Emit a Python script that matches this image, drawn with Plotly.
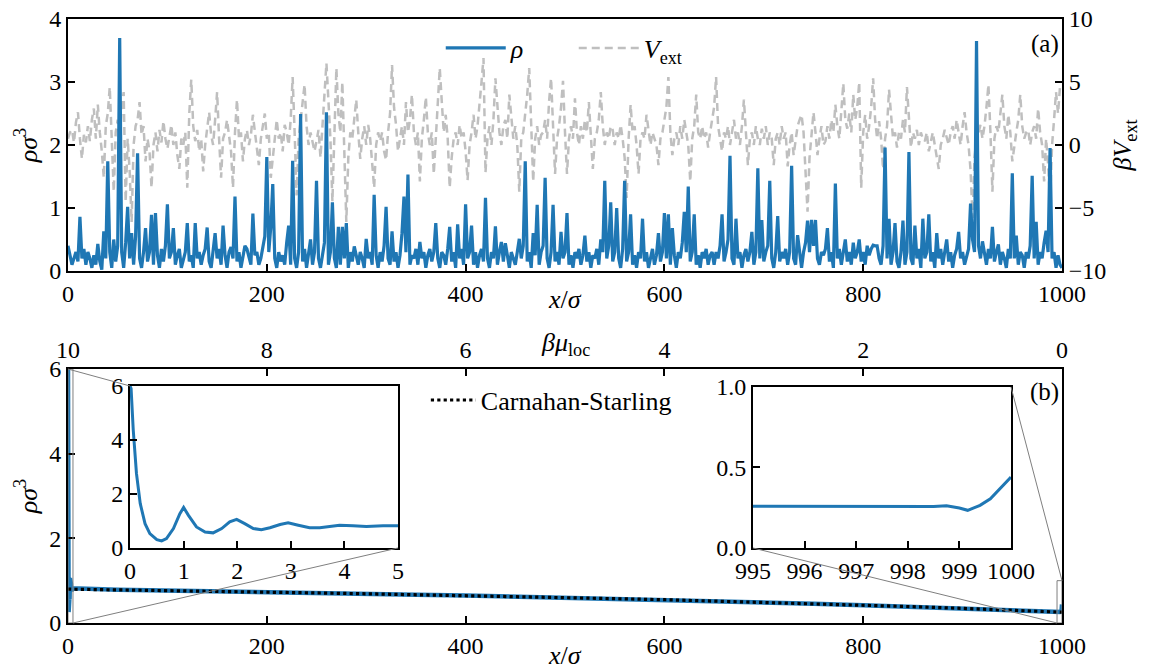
import plotly.graph_objects as go

FONT = "Liberation Serif"
FS = 24
BLUE = "#1f77b4"
GREY = "#bfbfbf"

# ---------------- panel (a): density and external potential ----------------
rho_top = [
    0.40, 0.25, 0.10, 0.20, 0.30, 0.15, 0.86, 0.20, 0.35, 0.10, 0.30, 0.20, 0.05, 0.25, 0.10, 0.43, 0.15, 0.02, 0.63, 0.20, 1.74, 0.30, 0.05, 0.50, 0.15,
    0.40, 3.70, 0.30, 0.05, 0.45, 1.02, 0.20, 0.60, 0.10, 0.55, 1.87, 0.20, 0.05, 0.30, 0.68, 0.15, 0.30, 0.89, 0.10, 0.92, 0.25, 0.05, 0.35, 0.15, 0.40,
    1.06, 0.20, 0.30, 0.68, 0.10, 0.25, 0.35, 0.05, 0.20, 0.30, 0.76, 0.15, 0.25, 0.05, 0.76, 0.20, 0.30, 0.10, 0.25, 0.35, 0.69, 0.15, 0.05, 0.30, 0.60,
    0.20, 0.35, 0.10, 0.72, 0.25, 0.05, 0.30, 0.38, 0.20, 1.18, 0.15, 0.30, 0.05, 0.25, 0.40, 0.35, 0.20, 0.10, 0.91, 0.25, 0.30, 0.10, 0.20, 0.35, 0.55,
    1.81, 0.30, 0.70, 1.38, 0.20, 0.05, 0.30, 0.15, 0.25, 0.10, 0.45, 0.72, 0.10, 1.75, 0.20, 0.05, 0.30, 2.49, 0.15, 0.35, 0.05, 0.25, 0.50, 0.10, 0.30,
    1.43, 0.20, 0.05, 0.30, 0.45, 2.52, 0.10, 0.30, 1.09, 0.20, 0.05, 0.70, 0.10, 0.70, 0.20, 0.76, 0.05, 0.30, 0.15, 0.39, 0.25, 0.10, 0.30, 0.20, 0.05,
    0.51, 0.20, 0.30, 0.10, 1.21, 0.25, 0.05, 0.30, 0.15, 0.40, 1.02, 0.20, 0.10, 0.63, 0.15, 0.30, 0.05, 0.25, 0.60, 1.18, 0.30, 1.53, 0.10, 0.25, 0.20,
    0.35, 0.10, 0.46, 0.20, 0.30, 0.05, 0.25, 0.35, 0.15, 0.30, 0.76, 0.20, 0.05, 0.30, 0.25, 0.10, 0.35, 0.70, 0.15, 0.30, 0.05, 0.74, 0.20, 0.35, 0.10,
    1.06, 0.20, 0.30, 0.72, 0.10, 0.30, 0.05, 0.25, 0.35, 0.15, 1.16, 0.20, 0.05, 0.30, 0.20, 0.71, 0.10, 0.30, 0.46, 0.15, 0.44, 0.25, 0.05, 0.30, 0.20,
    0.10, 0.30, 0.51, 0.20, 0.40, 1.74, 0.15, 0.30, 0.05, 0.60, 0.25, 1.05, 0.10, 0.30, 0.40, 1.48, 0.20, 0.05, 0.30, 1.05, 0.15, 0.30, 0.10, 0.62, 0.20,
    0.30, 0.92, 0.10, 0.25, 0.05, 0.30, 0.20, 0.35, 0.10, 0.25, 0.56, 0.15, 0.30, 0.05, 0.25, 0.20, 0.35, 0.10, 0.50, 0.30, 1.43, 0.20, 0.40, 1.09, 0.15,
    0.30, 1.00, 0.20, 0.05, 0.35, 1.43, 0.15, 0.30, 0.90, 0.10, 0.25, 0.05, 0.30, 0.20, 0.83, 0.15, 0.30, 0.05, 0.20, 0.35, 0.10, 0.25, 0.60, 0.15, 0.30,
    0.92, 0.20, 0.90, 0.10, 0.68, 0.25, 0.05, 0.30, 0.20, 0.45, 0.94, 0.30, 1.34, 0.15, 0.30, 0.90, 0.10, 0.25, 0.05, 0.30, 0.20, 0.35, 0.10, 0.25, 0.30,
    0.10, 0.30, 0.20, 0.40, 0.90, 0.15, 0.30, 0.50, 1.83, 0.20, 0.10, 0.83, 0.20, 0.30, 0.05, 0.25, 0.35, 0.15, 0.30, 0.62, 0.10, 0.30, 1.63, 0.20, 0.81,
    0.15, 0.30, 0.40, 1.43, 0.20, 0.05, 0.30, 0.87, 0.15, 0.30, 0.20, 0.35, 0.10, 0.30, 1.67, 0.20, 0.10, 0.57, 0.25, 0.05, 0.30, 0.45, 0.80, 0.30, 0.81,
    0.40, 0.81, 0.20, 0.10, 0.30, 0.25, 0.35, 0.68, 0.15, 0.30, 0.05, 1.39, 0.20, 0.35, 0.10, 0.30, 0.50, 0.15, 0.30, 0.10, 0.45, 0.20, 0.30, 0.50, 0.15,
    0.30, 0.10, 0.40, 0.25, 0.35, 0.41, 0.40, 0.40, 0.20, 0.10, 0.40, 1.96, 0.20, 0.83, 0.10, 0.30, 0.76, 0.15, 0.05, 0.30, 0.80, 0.10, 0.30, 1.89, 0.20,
    0.10, 0.72, 0.20, 0.35, 0.05, 0.83, 0.20, 0.30, 0.90, 0.15, 0.30, 0.05, 0.60, 0.20, 0.35, 0.10, 0.30, 0.50, 0.15, 0.30, 0.05, 0.25, 0.35, 0.62, 0.20,
    0.30, 0.10, 0.25, 0.35, 1.07, 0.50, 0.30, 3.65, 0.40, 0.20, 0.47, 0.30, 0.10, 0.35, 0.20, 0.70, 0.15, 0.30, 0.42, 0.10, 0.30, 0.20, 0.05, 0.35, 0.20,
    1.55, 0.20, 0.56, 0.10, 0.30, 0.25, 0.05, 0.30, 0.20, 0.40, 1.51, 0.20, 0.78, 0.10, 0.30, 0.20, 0.45, 0.64, 0.30, 1.95, 0.20, 0.30, 0.05, 0.25, 0.10,
    0.05,
]

v_ext = [
    0.5, 1.0, 1.2, 0.2, 1.8, 2.6, 0.5, -1.1, 0.8, 0.2, 1.5, 0.3, 2.0, 2.9, 0.5, 3.2, 1.0, -0.5, -2.6, 1.5, 2.5, 4.6, 0.5, -3.7, 1.0,
    2.0, 0.0, 3.0, 4.2, -4.5, 0.5, -2.0, -6.1, 0.0, 1.5, 2.0, 3.4, 0.8, 1.5, -1.3, 0.5, -0.5, -3.4, 0.0, 1.0, -0.5, 1.2, 0.2, 1.9, 0.5,
    -0.3, 0.8, 1.6, 0.0, 1.0, -0.8, -1.9, 0.5, 0.0, 1.0, -3.4, 2.5, 5.2, 1.5, 0.3, 1.2, -0.5, 0.5, -2.1, 0.0, 1.5, 2.6, 0.8, 0.0, 2.0,
    4.2, 0.5, -2.6, 0.5, 1.0, 2.0, 0.5, -0.5, -3.4, 1.0, 3.6, 0.5, 1.0, -1.3, 0.5, 1.2, 0.0, 0.8, 2.4, 1.0, -0.5, -1.6, 0.5, 1.5, 2.5,
    0.5, 1.0, -2.6, -1.0, 1.0, 2.0, 0.5, 1.0, -0.5, 1.6, 1.0, 0.0, 2.0, 5.4, 1.0, -4.0, 0.5, 2.0, 3.0, 4.8, 1.5, 0.0, 1.0, 0.3, -0.5,
    0.3, 1.2, -1.0, 2.0, 4.0, 6.5, 3.0, 0.5, -4.5, 2.0, 6.1, 2.5, 1.0, 5.0, 0.0, -6.1, -1.0, 1.0, 0.5, 2.0, 3.6, 1.0, -1.1, 0.5, 1.5,
    0.0, 1.6, 0.5, -1.5, -3.4, 0.0, 1.0, 0.3, 1.0, -0.5, -1.2, 1.0, 2.5, 6.35, 3.0, 1.6, -0.5, 0.5, 1.5, 0.0, 3.4, 1.0, 2.0, 4.0, 1.0,
    0.0, 1.0, -2.9, 0.5, 2.0, 3.8, 1.0, 0.0, 1.0, -2.3, 0.5, 3.0, 6.1, 3.5, 1.0, 2.4, 0.5, -3.4, -1.0, 0.5, 1.0, 0.0, 1.6, 0.5, 1.0,
    -0.5, -2.8, 0.0, 1.0, 2.4, 0.5, 1.5, 3.0, 5.0, 6.9, -2.2, 0.5, 1.5, 0.0, 2.0, 5.3, 3.0, 1.0, 0.0, 1.5, 2.0, 0.5, 4.0, 2.0, 0.5,
    1.5, 0.0, -3.7, 0.5, 1.0, 2.5, 4.0, 6.1, 2.0, -2.9, 0.5, 1.5, 0.0, 0.8, 1.0, 2.0, 0.5, 3.5, 5.3, 1.0, -2.3, 0.5, 1.5, 3.0, 5.1,
    1.0, -2.3, 0.5, 1.5, 0.5, 3.7, 1.0, 0.0, 1.5, 0.5, 2.0, 1.0, 3.4, 0.5, -1.9, 0.5, 1.0, 2.0, 4.2, 1.5, 0.0, 1.0, 0.5, 1.5, 1.2,
    0.0, 1.0, 0.5, 1.6, 0.5, -1.0, -4.2, 0.5, 3.2, 1.0, 1.5, 0.0, -2.3, 0.5, 1.0, 0.5, 2.4, 1.0, 0.0, 1.0, 0.5, 0.0, -1.6, 0.5, 1.0,
    2.0, 3.0, 5.4, 1.0, -0.8, 0.5, 1.0, 0.0, 1.5, 0.5, 2.0, 1.0, 0.0, -2.9, 0.5, 1.5, 4.0, 1.0, 0.5, 1.5, 0.5, 1.0, -0.2, 1.0, 2.0,
    3.0, 5.4, 1.5, 0.5, -0.5, 1.0, 0.5, 1.5, 0.0, 1.0, 2.0, 0.5, 1.0, 0.0, 1.5, 3.6, 0.5, -1.6, 0.5, 1.0, 0.0, 1.5, 0.5, 0.0, 1.3,
    0.5, 1.5, 0.0, 1.0, 0.5, -1.6, 0.5, 1.0, 0.0, 1.5, 0.5, 1.0, -1.7, 0.0, 1.0, -0.8, 0.5, 1.5, 2.0, 2.4, 1.0, -2.0, -5.3, -1.0, 1.0,
    2.6, 1.0, -0.8, 0.5, 1.5, 0.0, 0.3, 1.5, 0.5, 2.0, 1.0, 3.2, 1.5, 0.5, 2.5, 4.9, 2.0, 1.3, 2.5, 1.0, 4.0, 2.0, 3.0, 5.0, -3.4,
    1.0, 2.4, 0.5, 1.5, 3.0, 5.3, 2.0, 0.5, 1.9, 0.5, -1.9, 0.5, 1.5, 4.4, 2.0, 0.5, 1.0, -0.2, 1.0, 0.5, 2.0, 1.0, 4.6, 2.5, -0.2,
    1.0, 0.5, 1.2, 0.0, 1.0, 0.5, 0.3, 1.0, -0.5, 0.3, 1.0, 0.0, -1.0, -1.9, 0.0, 0.5, 1.2, 0.5, 0.0, 1.0, 1.5, 0.5, 2.0, 1.0, 0.0,
    1.5, 2.6, 1.0, 0.0, -2.0, -5.8, -1.0, 0.5, 1.0, 1.6, 0.5, 1.5, 3.0, 4.8, 1.0, -3.7, 0.5, 1.5, 1.0, 2.5, 4.0, 1.5, 0.5, 2.4, 1.0,
    -1.3, 0.0, 1.0, 2.0, 4.0, 1.5, 0.5, 1.0, 1.2, 0.0, 1.0, 1.5, 0.5, 2.9, 1.0, 0.0, -2.9, 0.5, -1.5, -4.5, 0.0, 2.0, 4.2, 2.5, 4.6,
    4.5,
]
x_step = 2
x_rho = [x_step * i for i in range(len(rho_top))]
x_v = [x_step * i for i in range(len(v_ext))]

# ---------------- panel (b): density in a linear chemical-potential gradient ----------------
wall_x = [0, 0.02, 0.06, 0.12, 0.19, 0.28, 0.37, 0.5, 0.59, 0.68, 0.81, 0.93, 1.0, 1.09, 1.24, 1.4,
          1.55, 1.71, 1.86, 1.99, 2.14, 2.3, 2.45, 2.61, 2.8, 2.95, 3.14, 3.35, 3.54, 3.73, 3.91,
          4.16, 4.41, 4.72, 5.0]
wall_rho = [6.0, 5.9, 4.37, 2.76, 1.65, 0.9, 0.53, 0.31, 0.26, 0.35, 0.72, 1.27, 1.5, 1.21, 0.78, 0.59,
            0.56, 0.72, 0.97, 1.06, 0.9, 0.72, 0.68, 0.75, 0.87, 0.93, 0.84, 0.75, 0.75, 0.8, 0.84,
            0.82, 0.8, 0.82, 0.82]

end_x = [995, 996, 997, 998, 998.5, 998.75, 999.0, 999.16, 999.4, 999.6, 999.79, 1000]
end_rho = [0.259, 0.258, 0.257, 0.257, 0.258, 0.262, 0.248, 0.234, 0.265, 0.306, 0.368, 0.44]

bulk_x = [0, 50, 100, 150, 200, 250, 300, 350, 400, 450, 500, 550, 600, 650, 700, 750, 800,
          850, 900, 950, 1000]
cs_rho = [0.80, 0.785, 0.77, 0.75, 0.73, 0.71, 0.69, 0.67, 0.65, 0.625, 0.60, 0.575, 0.55, 0.52,
          0.49, 0.455, 0.42, 0.385, 0.345, 0.30, 0.255]

mu_ticks = [10, 8, 6, 4, 2, 0]
x_ticks = [0, 200, 400, 600, 800, 1000]

# full density profile of panel (b): wall region + bulk + far end
full_x = wall_x + [x for x in bulk_x if 5 < x < 995] + end_x
full_rho = wall_rho + [r for x, r in zip(bulk_x, cs_rho) if 5 < x < 995] + end_rho

# ---------------- layout geometry ----------------
DOM_TOP = [0.5828, 1.0]
DOM_BOT = [0.0, 0.4205]
DOM_IN1_X = [0.0624, 0.332]
DOM_IN1_Y = [0.1242, 0.3924]
DOM_IN2_X = [0.6891, 0.9487]
DOM_IN2_Y = [0.1242, 0.3907]
XR = [0, 1000]
YR_B = [0, 6]

fig = go.Figure()

fig.add_trace(go.Scatter(x=x_v, y=v_ext, mode="lines", xaxis="x", yaxis="y",
                         line=dict(color=GREY, width=2.5, dash="8px,5px"),
                         name="<i>V</i><sub>ext</sub>", legend="legend", legendrank=2))
fig.add_trace(go.Scatter(x=x_rho, y=rho_top, mode="lines", xaxis="x", yaxis="y2",
                         line=dict(color=BLUE, width=3.2),
                         name="<i>ρ</i>", legend="legend", legendrank=1))

fig.add_trace(go.Scatter(x=full_x, y=full_rho, mode="lines", xaxis="x2", yaxis="y3",
                         line=dict(color=BLUE, width=4.5), showlegend=False))
fig.add_trace(go.Scatter(x=bulk_x, y=cs_rho, mode="lines", xaxis="x2", yaxis="y3",
                         line=dict(color="black", width=3.2, dash="dot"),
                         name="Carnahan-Starling", legend="legend2"))
fig.add_trace(go.Scatter(x=mu_ticks, y=[None] * len(mu_ticks), mode="lines",
                         xaxis="x3", yaxis="y3", showlegend=False, hoverinfo="skip"))

fig.add_trace(go.Scatter(x=wall_x, y=wall_rho, mode="lines", xaxis="x4", yaxis="y4",
                         line=dict(color=BLUE, width=3), showlegend=False))
fig.add_trace(go.Scatter(x=end_x, y=end_rho, mode="lines", xaxis="x5", yaxis="y5",
                         line=dict(color=BLUE, width=3), showlegend=False))

tickfont = dict(family=FONT, size=FS, color="black")
base = dict(showline=True, linewidth=1.8, linecolor="black", mirror=True, ticks="inside",
            ticklen=7, tickwidth=1.5, tickcolor="black", showgrid=False, zeroline=False,
            tickfont=tickfont, automargin=False, ticklabeloverflow="allow")

def title(t, standoff):
    return dict(text=t, font=dict(family=FONT, size=FS + 2, color="black"), standoff=standoff)

fig.update_layout(
    width=1150, height=667,
    margin=dict(l=60, r=96, t=11, b=52, autoexpand=False),
    paper_bgcolor="white", plot_bgcolor="white",
    font=dict(family=FONT, size=FS, color="black"),
    xaxis=dict(base, domain=[0, 1], anchor="y", range=XR, tickvals=x_ticks),
    yaxis=dict(base, domain=DOM_TOP, anchor="x", side="right", range=[-10, 10],
               tickvals=[-10, -5, 0, 5, 10], title=title("<i>βV</i><sub>ext</sub>", 8)),
    yaxis2=dict(base, overlaying="y", anchor="x", side="left", range=[0, 4],
                tickvals=[0, 1, 2, 3, 4], title=title("<i>ρσ</i><sup>3</sup>", 4)),
    xaxis2=dict(base, domain=[0, 1], anchor="y3", range=XR, tickvals=x_ticks),
    yaxis3=dict(base, domain=DOM_BOT, anchor="x2", range=YR_B, tickvals=[0, 2, 4, 6],
                title=title("<i>ρσ</i><sup>3</sup>", 4)),
    xaxis3=dict(base, overlaying="x2", anchor="y3", side="top", range=[10, 0],
                tickvals=mu_ticks),
    xaxis4=dict(base, domain=DOM_IN1_X, anchor="y4", range=[0, 5], tickvals=[0, 1, 2, 3, 4, 5]),
    yaxis4=dict(base, domain=DOM_IN1_Y, anchor="x4", range=[0, 6], tickvals=[0, 2, 4, 6]),
    xaxis5=dict(base, domain=DOM_IN2_X, anchor="y5", range=[995, 1000],
                tickvals=[995, 996, 997, 998, 999, 1000]),
    yaxis5=dict(base, domain=DOM_IN2_Y, anchor="x5", range=[0, 1], tickvals=[0, 0.5, 1.0],
                tickformat=".1f"),
    legend=dict(x=0.375, y=0.952, xanchor="left", yanchor="middle", orientation="h",
                bgcolor="rgba(0,0,0,0)", font=dict(family=FONT, size=FS + 2),
                itemwidth=60, entrywidth=58, entrywidthmode="pixels", traceorder="normal"),
    legend2=dict(x=0.360, y=0.369, xanchor="left", yanchor="middle", itemwidth=45,
                 bgcolor="rgba(0,0,0,0)", font=dict(family=FONT, size=FS + 2)),
    showlegend=True,
)

# axis titles placed as in the reference, panel labels and the top-axis title
XT = dict(xref="paper", yref="paper", xanchor="center", yanchor="middle", showarrow=False,
          font=dict(family=FONT, size=FS + 2, color="black"))
fig.add_annotation(XT, text="<i>x</i>/<i>σ</i>", x=0.5, y=0.535)
fig.add_annotation(XT, text="<i>x</i>/<i>σ</i>", x=0.5, y=-0.053)
fig.add_annotation(XT, text="<i>βμ</i><sub>loc</sub>", x=0.5, y=0.462)
fig.add_annotation(text="(a)", xref="paper", yref="paper", x=0.999, y=0.958,
                   xanchor="right", yanchor="middle", showarrow=False,
                   font=dict(family=FONT, size=FS + 1, color="black"))
fig.add_annotation(text="(b)", xref="paper", yref="paper", x=0.999, y=0.3825,
                   xanchor="right", yanchor="middle", showarrow=False,
                   font=dict(family=FONT, size=FS + 1, color="black"))

# zoom boxes in panel (b) and connector lines to the insets
def to_paper(x, y):
    px = (x - XR[0]) / (XR[1] - XR[0])
    py = DOM_BOT[0] + (y - YR_B[0]) / (YR_B[1] - YR_B[0]) * (DOM_BOT[1] - DOM_BOT[0])
    return px, py

CONN = dict(color="#7f7f7f", width=1)
fig.add_shape(type="rect", xref="x2", yref="y3", x0=wall_x[0], x1=wall_x[-1], y0=0, y1=6,
              line=CONN)
fig.add_shape(type="rect", xref="x2", yref="y3", x0=end_x[0], x1=end_x[-1], y0=0, y1=1,
              line=CONN)

a = to_paper(wall_x[0], 6)
b = to_paper(wall_x[-1], 0)
c = to_paper(end_x[-1], 1)
d = to_paper(end_x[0], 0)
fig.add_shape(type="line", xref="paper", yref="paper", x0=a[0], y0=a[1],
              x1=DOM_IN1_X[0], y1=DOM_IN1_Y[1], line=CONN)
fig.add_shape(type="line", xref="paper", yref="paper", x0=b[0], y0=b[1],
              x1=DOM_IN1_X[1], y1=DOM_IN1_Y[0], line=CONN)
fig.add_shape(type="line", xref="paper", yref="paper", x0=c[0], y0=c[1],
              x1=DOM_IN2_X[1], y1=DOM_IN2_Y[1], line=CONN)
fig.add_shape(type="line", xref="paper", yref="paper", x0=d[0], y0=d[1],
              x1=DOM_IN2_X[0], y1=DOM_IN2_Y[0], line=CONN)

fig.write_html("out.html")
